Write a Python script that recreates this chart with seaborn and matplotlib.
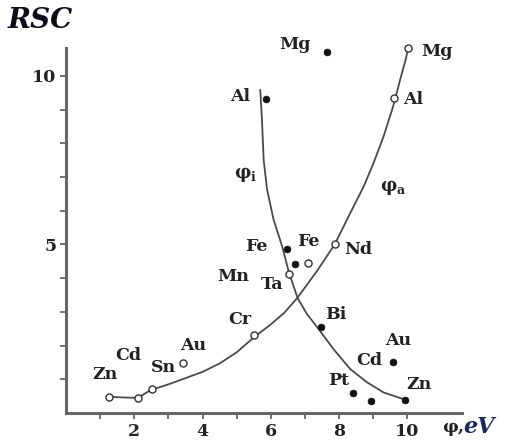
import matplotlib
matplotlib.use("Agg")
import matplotlib.pyplot as plt
import seaborn as sns
import pandas as pd

# ---- data ----
# curve phi_i
phi_i_x = [5.69, 5.74, 5.79, 5.89, 6.08, 6.33, 6.52, 6.78, 7.05, 7.40, 7.84, 8.33, 8.82, 9.30, 9.89]
phi_i_y = [9.59, 8.70, 7.51, 6.63, 5.74, 4.95, 4.21, 3.42, 2.95, 2.49, 1.89, 1.30, 0.91, 0.61, 0.41]
# curve phi_a
phi_a_x = [1.27, 1.70, 2.10, 2.48, 3.00, 3.46, 4.00, 4.50, 5.00, 5.51, 6.00, 6.40, 6.78, 7.35,
           7.87, 8.33, 8.72, 9.01, 9.30, 9.55, 9.65, 9.79, 9.94, 10.01]
phi_a_y = [0.48, 0.46, 0.45, 0.68, 0.85, 1.02, 1.22, 1.47, 1.80, 2.25, 2.63, 2.98, 3.42, 4.21,
           5.00, 5.94, 6.72, 7.42, 8.20, 8.99, 9.34, 9.90, 10.45, 10.75]

# open circles
open_x = [1.26, 2.12, 2.51, 3.42, 5.52, 6.54, 7.08, 7.89, 9.60, 10.03]
open_y = [0.48, 0.44, 0.71, 1.47, 2.31, 4.11, 4.46, 5.00, 9.34, 10.82]
# filled circles
filled_x = [7.66, 5.87, 6.47, 6.72, 7.47, 9.57, 8.42, 8.93, 9.93]
filled_y = [10.70, 9.33, 4.87, 4.43, 2.56, 1.50, 0.59, 0.36, 0.38]

# element labels
label_text = ["Mg", "Mg", "Al", "Al", "Fe", "Fe", "Mn", "Ta", "Nd", "Cr", "Bi",
              "Au", "Cd", "Pt", "Zn", "Zn", "Cd", "Sn", "Au"]
label_x = [6.72, 10.87, 10.18, 5.10, 5.59, 7.11, 4.90, 6.03, 8.56, 5.10, 7.89,
           9.74, 8.87, 7.99, 10.35, 1.14, 1.83, 2.85, 3.73]
label_y = [10.92, 10.72, 9.29, 9.39, 4.95, 5.10, 4.06, 3.82, 4.85, 2.78, 2.93,
           2.14, 1.55, 0.96, 0.86, 1.15, 1.70, 1.35, 1.99]

x_ticks_major = [2, 4, 6, 8, 10]
x_ticks_minor = [1, 3, 5, 7, 9]
y_ticks_major = [5, 10]
y_ticks_minor = [1, 2, 3, 4, 6, 7, 8, 9]

# ---- drawing ----
sns.set_style("white")
plt.rcParams['font.family'] = ['DejaVu Serif']
plt.rcParams['mathtext.fontset'] = 'dejavuserif'

fig = plt.figure(figsize=(5.07, 4.43), dpi=100)
ax = fig.add_axes([66 / 507, 30 / 443, 396 / 507, 365 / 443])

line_col = "#4a4a4a"
df_i = pd.DataFrame({"x": phi_i_x, "y": phi_i_y})
df_a = pd.DataFrame({"x": phi_a_x, "y": phi_a_y})
sns.lineplot(data=df_i, x="x", y="y", sort=False, ax=ax, color=line_col, lw=1.3, estimator=None)
sns.lineplot(data=df_a, x="x", y="y", sort=False, ax=ax, color=line_col, lw=1.3, estimator=None)
for ln in ax.lines:
    ln.set_solid_joinstyle("round")

df_o = pd.DataFrame({"x": open_x, "y": open_y})
df_f = pd.DataFrame({"x": filled_x, "y": filled_y})
sns.scatterplot(data=df_o, x="x", y="y", ax=ax, s=26, facecolor="white",
                edgecolor="#333333", linewidth=1.0, zorder=5, clip_on=False)
sns.scatterplot(data=df_f, x="x", y="y", ax=ax, s=24, color="#111111",
                edgecolor="#111111", linewidth=0.5, zorder=5, clip_on=False)

for t, x, y in zip(label_text, label_x, label_y):
    ax.text(x, y, t, ha="center", va="center", fontsize=12.5, fontweight="bold",
            color="#222222", clip_on=False)

ax.text(5.25, 7.07, "φ$_\\mathbf{i}$", ha="center", va="center", fontsize=13,
        fontweight="bold", color="#222222")
ax.text(9.59, 6.69, "φ$_\\mathbf{a}$", ha="center", va="center", fontsize=13,
        fontweight="bold", color="#222222")

ax.set_xlim(0, 11.6)
ax.set_ylim(0, 10.83)
ax.set_xticks(x_ticks_major)
ax.set_xticks(x_ticks_minor, minor=True)
ax.set_yticks(y_ticks_major)
ax.set_yticks(y_ticks_minor, minor=True)
ax.set_xlabel("")
ax.set_ylabel("")
for lab in ax.get_xticklabels() + ax.get_yticklabels():
    lab.set_fontweight("bold")
    lab.set_fontsize(12.5)
    lab.set_color("#222222")

spine_col = "#666666"
for side in ["top", "right"]:
    ax.spines[side].set_visible(False)
for side in ["left", "bottom"]:
    ax.spines[side].set_color(spine_col)
    ax.spines[side].set_linewidth(2.2)
ax.tick_params(which="both", bottom=True, left=True, direction="out", length=4,
               width=1.3, color=spine_col, pad=3)

fig.text(40 / 507, 1 - 20 / 443, "RSC", ha="center", va="center", fontsize=20,
         fontweight="bold", fontstyle="italic", color="#0d0d1a")
fig.text(442 / 507, 1 - 427 / 443, "φ,", ha="left", va="center", fontsize=12.5,
         fontweight="bold", color="#222222")
fig.text(463 / 507, 1 - 427 / 443, "eV", ha="left", va="center", fontsize=16,
         fontweight="bold", fontstyle="italic", color="#1c2a55")

fig.savefig("out.png", dpi=100)
